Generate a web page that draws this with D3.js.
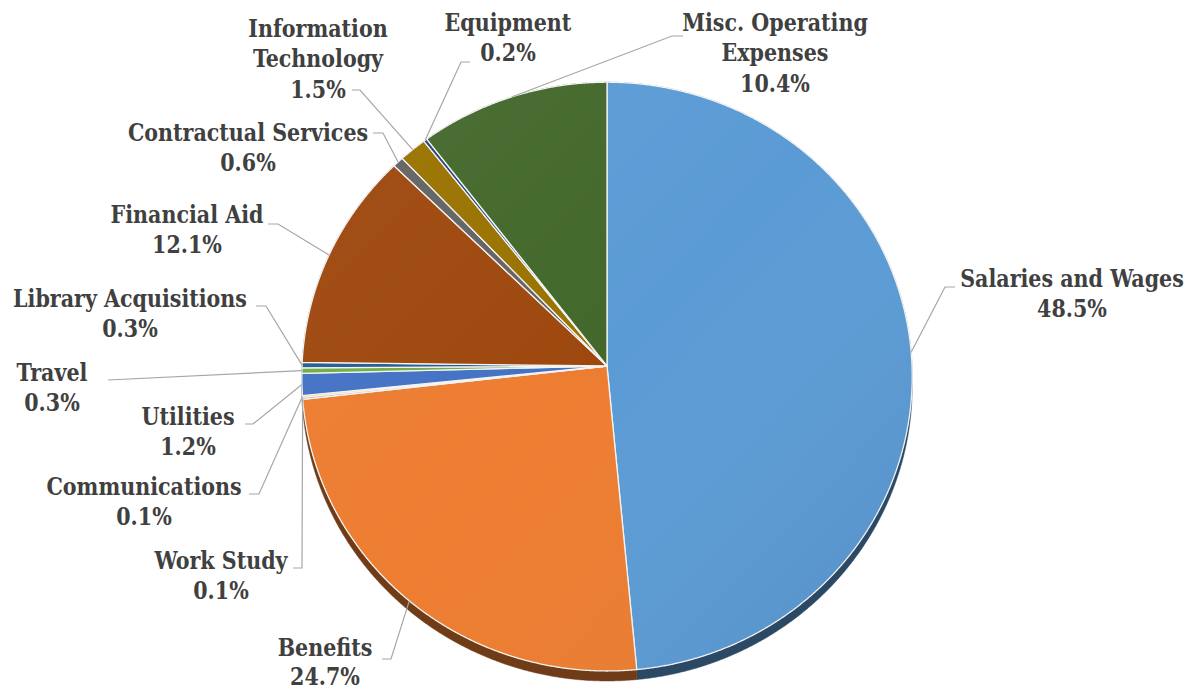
<!DOCTYPE html>
<html>
<head>
<meta charset="utf-8">
<script src="https://cdn.jsdelivr.net/npm/d3@7"></script>
<style>
  html, body { margin: 0; padding: 0; background: #ffffff; }
  svg { display: block; }
  text { font-family: "DejaVu Serif Condensed", "DejaVu Serif", serif; font-weight: bold; fill: #404040; }
</style>
</head>
<body>
<svg id="chart" width="1199" height="694"></svg>
<script>
// ---------- data ----------
const categories = ["Salaries and Wages", "Benefits", "Work Study", "Communications", "Utilities",
  "Travel", "Library Acquisitions", "Financial Aid", "Contractual Services",
  "Information Technology", "Equipment", "Misc. Operating Expenses"];
const values = [48.5, 24.7, 0.1, 0.1, 1.2, 0.3, 0.3, 12.1, 0.6, 1.5, 0.2, 10.4];
const colors = ["#5B9BD5", "#ED7D31", "#A5A5A5", "#FFC000", "#4472C4", "#70AD47",
  "#255E91", "#9E480E", "#636363", "#997300", "#264478", "#43682B"];
const labelLines = {
  "Information Technology": ["Information", "Technology"],
  "Misc. Operating Expenses": ["Misc. Operating", "Expenses"]
};

// ---------- layout ----------
const W = 1199, H = 694;
const cx = 607, cy = 366, R = 305, Ry = 294, persp = 0.036;
const depth = 10, depthX = 0;
const fontSize = 24, fontScaleX = 0.955, lineH = 30.5;
// label layout: text centre x, first baseline y, leader start point, elbow x
const labelLayout = {
  "Information Technology": { x: 318, y: 37, ax: 352, ay: 90, ex: 360 },
  "Equipment": { x: 508, y: 31, ax: 470, ay: 62, ex: 461 },
  "Misc. Operating Expenses": { x: 775, y: 31, ax: 683, ay: 36, ex: 672 },
  "Salaries and Wages": { x: 1072, y: 287, ax: 955, ay: 287, ex: 945 },
  "Benefits": { x: 325, y: 656, lh: 29, ax: 382, ay: 659, ex: 391 },
  "Work Study": { x: 221, y: 569, ax: 293, ay: 568, ex: 302 },
  "Communications": { x: 144, y: 495, ax: 249, ay: 494, ex: 259 },
  "Utilities": { x: 188, y: 425, ax: 245, ay: 424, ex: 253 },
  "Travel": { x: 52, y: 381, ax: 108, ay: 380, ex: null },
  "Library Acquisitions": { x: 130, y: 307, ax: 256, ay: 306, ex: 266 },
  "Financial Aid": { x: 187, y: 223, ax: 268, ay: 224, ex: 278 },
  "Contractual Services": { x: 248, y: 141, ax: 373, ay: 133, ex: 383 }
};

const svg = d3.select("#chart");
const data = categories.map((c, i) => ({ name: c, value: values[i], color: colors[i] }));
const pie = d3.pie().value(d => d.value).sort(null);
const arcs = pie(data);

// perspective projection of a point on the tilted disc
function proj(a, r) {
  const sx = r * Math.sin(a), sy = -r * Math.cos(a);
  const w = 1 - persp * sy;
  return [cx + R * sx / w, cy + Ry * sy / w];
}
function arcPoints(a0, a1) {
  const n = Math.max(2, Math.ceil((a1 - a0) / 0.004));
  return d3.range(n + 1).map(i => proj(a0 + (a1 - a0) * i / n, 1));
}
const line = d3.line();

const defs = svg.append("defs");
const grad = defs.append("linearGradient").attr("id", "shade")
  .attr("gradientUnits", "userSpaceOnUse")
  .attr("x1", cx - R).attr("y1", cy - Ry).attr("x2", cx + R).attr("y2", cy + Ry);
grad.append("stop").attr("offset", "0").attr("stop-color", "#ffffff").attr("stop-opacity", 0.05);
grad.append("stop").attr("offset", "0.5").attr("stop-color", "#ffffff").attr("stop-opacity", 0);
grad.append("stop").attr("offset", "1").attr("stop-color", "#000000").attr("stop-opacity", 0.08);

// side walls
const walls = svg.append("g");
arcs.forEach(d => {
  const top = arcPoints(d.startAngle, d.endAngle);
  const bottom = top.map(p => [p[0] + depthX, p[1] + depth]).reverse();
  const wc = d3.color(d.data.color).darker(2.1);
  walls.append("path")
    .attr("d", line(top.concat(bottom)) + "Z")
    .attr("fill", wc)
    .attr("stroke", wc)
    .attr("stroke-width", 0.5);
});

// top surfaces
const slices = svg.append("g");
arcs.forEach(d => {
  const pts = [proj(0, 0)].concat(arcPoints(d.startAngle, d.endAngle));
  slices.append("path")
    .attr("d", line(pts) + "Z")
    .attr("fill", d.data.color)
    .attr("stroke", "#f4f4f4")
    .attr("stroke-width", 1.3)
    .attr("stroke-linejoin", "round");
});
// subtle shading overlay
svg.append("path")
  .attr("d", line(arcPoints(0, 2 * Math.PI)) + "Z")
  .attr("fill", "url(#shade)")
  .attr("pointer-events", "none");

// leader lines
const leaders = svg.append("g");
arcs.forEach(d => {
  const L = labelLayout[d.data.name];
  const mid = (d.startAngle + d.endAngle) / 2;
  const p = proj(mid, 1);
  const pts = [[L.ax, L.ay]];
  if (L.ex !== null) pts.push([L.ex, L.ay]);
  pts.push(p);
  leaders.append("path")
    .attr("d", line(pts))
    .attr("fill", "none")
    .attr("stroke", "#a6a6a6")
    .attr("stroke-width", 1.2);
});

// labels
const labels = svg.append("g");
arcs.forEach(d => {
  const L = labelLayout[d.data.name];
  const lh = L.lh || lineH;
  const lines = (labelLines[d.data.name] || [d.data.name]).concat([d.data.value.toFixed(1) + "%"]);
  const t = labels.append("text")
    .attr("transform", `translate(${L.x},0) scale(${fontScaleX},1)`)
    .attr("text-anchor", "middle")
    .attr("font-size", fontSize);
  lines.forEach((s, i) => {
    t.append("tspan").attr("x", 0).attr("y", L.y + i * lh).text(s);
  });
});
</script>
</body>
</html>
